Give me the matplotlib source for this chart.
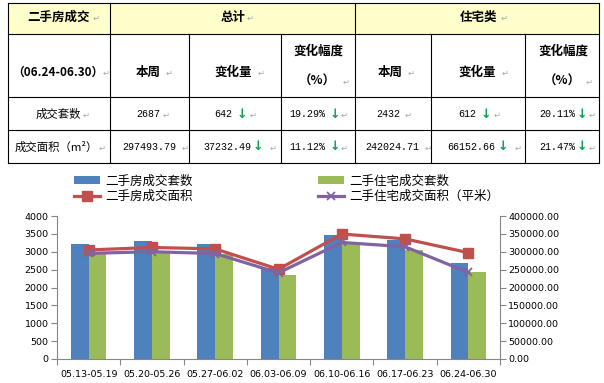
import matplotlib
matplotlib.use('Agg')
import matplotlib.pyplot as plt
import matplotlib.ticker as mticker
from matplotlib.patches import Rectangle, Patch
from matplotlib.lines import Line2D
from matplotlib.font_manager import FontProperties
import numpy as np

# ---------------- data ----------------
weeks = ['05.13-05.19', '05.20-05.26', '05.27-06.02', '06.03-06.09',
         '06.10-06.16', '06.17-06.23', '06.24-06.30']
all_units = [3210, 3300, 3210, 2550, 3470, 3340, 2687]
res_units = [2960, 3000, 2950, 2350, 3220, 3049, 2432]
all_area = [305000, 312000, 308000, 251000, 349600, 336000, 297493.79]
res_area = [295600, 300000, 295000, 241000, 326000, 314000, 242024.71]
series_names = ['二手房成交套数', '二手房成交面积', '二手住宅成交套数', '二手住宅成交面积（平米）']

table_title = '二手房成交'
table_period = '（06.24-06.30）'
group_names = ['总计', '住宅类']
col_heads = ['本周', '变化量', '变化幅度', '（%）']
row_labels = ['成交套数', '成交面积（m²）']
total_week = ['2687', '297493.79']
total_change = ['642', '37232.49']
total_pct = ['19.29%', '11.12%']
res_week = ['2432', '242024.71']
res_change = ['612', '66152.66']
res_pct = ['20.11%', '21.47%']

# ---------------- figure ----------------
W, H = 604, 383
fig = plt.figure(figsize=(W / 100, H / 100), dpi=100)

CJK = 'Noto Sans CJK SC'
MONO = 'Liberation Mono'
GRAY_MARK = '#A8A8A8'
ARROW_C = '#0E9F55'

tax = fig.add_axes([0, 0, 1, 1])
tax.set_xlim(0, W)
tax.set_ylim(H, 0)
tax.axis('off')

col_x = [8, 110, 189, 281, 355, 431, 525, 599]
row_y = [3, 34, 97, 130, 163]
tax.add_patch(Rectangle((col_x[0], row_y[0]), col_x[-1] - col_x[0], row_y[1] - row_y[0],
                        facecolor='#FFFFCC', edgecolor='none', zorder=0))
lw = 0.8
for y in row_y:
    tax.plot([col_x[0], col_x[-1]], [y, y], color='black', lw=lw, solid_capstyle='projecting')
for x in [col_x[0], col_x[1], col_x[4], col_x[-1]]:
    tax.plot([x, x], [row_y[0], row_y[-1]], color='black', lw=lw)
for x in [col_x[2], col_x[3], col_x[5], col_x[6]]:
    tax.plot([x, x], [row_y[1], row_y[-1]], color='black', lw=lw)


def txt(x, y, s, family=CJK, size=8, weight='normal', color='black', ha='center'):
    tax.text(x, y, s, ha=ha, va='center', fontsize=size, family=family,
             fontweight=weight, color=color)


def mark(x, y):
    txt(x, y, '↵', family='DejaVu Sans', size=6, color=GRAY_MARK)


def arrow(x, y):
    txt(x, y, '↓', family='DejaVu Sans', size=9, weight='bold', color=ARROW_C)


HB = 9  # bold header size
# header row 1
txt(58.5, 17, table_title, size=HB, weight='bold'); mark(96, 18)
txt(233, 17, group_names[0], size=HB, weight='bold'); mark(250, 18)
txt(478, 17, group_names[1], size=HB, weight='bold'); mark(504, 18)
# header row 2
txt(58, 72.5, table_period, size=8.5, weight='bold'); mark(106.5, 73)
for cx, mx in [(148, 169), (390, 411)]:
    txt(cx, 72.5, col_heads[0], size=HB, weight='bold'); mark(mx, 73)
for cx, mx in [(233.5, 261), (477.5, 505)]:
    txt(cx, 72.5, col_heads[1], size=HB, weight='bold'); mark(mx, 73)
for cx, mx in [(318, 346), (563, 589)]:
    txt(cx, 51.5, col_heads[2], size=HB, weight='bold')
    txt(cx - 1, 81, col_heads[3], size=HB, weight='bold'); mark(mx, 82)

# data rows
ys = [114, 147]
# row label column
txt(58, ys[0], row_labels[0], size=8.2); mark(86, ys[0] + 1)
txt(56.5, ys[1], row_labels[1], size=8.2); mark(102, ys[1] + 1)
# total - this week
txt(148.3, ys[0], total_week[0], family=MONO, size=7.2); mark(166, ys[0] + 1)
txt(149.5, ys[1], total_week[1], family=MONO, size=7.2); mark(185, ys[1] + 1)
# total - change
txt(223, ys[0], total_change[0], family=MONO, size=7.2); arrow(242, ys[0]); mark(253, ys[0] + 1)
txt(227, ys[1], total_change[1], family=MONO, size=7.2); arrow(257.7, ys[1]); mark(273, ys[1] + 1)
# total - pct
txt(307.5, ys[0], total_pct[0], family=MONO, size=7.2); arrow(334.5, ys[0]); mark(344, ys[0] + 1)
txt(307.5, ys[1], total_pct[1], family=MONO, size=7.2); arrow(334.5, ys[1]); mark(344, ys[1] + 1)
# residential - this week
txt(388, ys[0], res_week[0], family=MONO, size=7.2); mark(408, ys[0] + 1)
txt(392, ys[1], res_week[1], family=MONO, size=7.2); mark(427.7, ys[1] + 1)
# residential - change
txt(467, ys[0], res_change[0], family=MONO, size=7.2); arrow(486, ys[0]); mark(497, ys[0] + 1)
txt(471.7, ys[1], res_change[1], family=MONO, size=7.2); arrow(502.7, ys[1]); mark(518, ys[1] + 1)
# residential - pct
txt(557, ys[0], res_pct[0], family=MONO, size=7.2); arrow(582, ys[0]); mark(592, ys[0] + 1)
txt(557, ys[1], res_pct[1], family=MONO, size=7.2); arrow(582, ys[1]); mark(592, ys[1] + 1)

# ---------------- chart ----------------
BLUE = '#4F81BD'
GREEN = '#9BBB59'
RED = '#C0504D'
PURPLE = '#8064A2'
AXC = '#868686'

ax = fig.add_axes([57 / W, (H - 359) / H, 443 / W, 143 / H])
ax.patch.set_alpha(0)
x = np.arange(len(weeks))
bw = 0.28
ax.bar(x - bw / 2, all_units, width=bw, color=BLUE, zorder=2)
ax.bar(x + bw / 2, res_units, width=bw, color=GREEN, zorder=2)
ax.set_xlim(-0.5, len(weeks) - 0.5)
ax.set_ylim(0, 4000)
ax.set_yticks(np.arange(0, 4001, 500))
ax.set_xticks(np.arange(-0.5, len(weeks), 1))
ax.set_xticklabels([])
ax.set_xticks(x, minor=True)
ax.set_xticklabels(weeks, minor=True)
ax.tick_params(axis='x', which='major', length=4, color=AXC, direction='out')
ax.tick_params(axis='x', which='minor', length=0, pad=8, labelsize=6.8)
ax.tick_params(axis='y', length=4, color=AXC, direction='out', pad=2, labelsize=6.8)
for s in ['top', 'right']:
    ax.spines[s].set_visible(False)
for s in ['left', 'bottom']:
    ax.spines[s].set_color(AXC)
    ax.spines[s].set_linewidth(0.8)

ax2 = ax.twinx()
ax2.plot(x, all_area, color=RED, lw=2.3, marker='s', markersize=7, zorder=3)
ax2.plot(x, res_area, color=PURPLE, lw=2.3, marker='x', markersize=6,
         markeredgewidth=1.3, zorder=4)
ax2.set_ylim(0, 400000)
ax2.set_yticks(np.arange(0, 400001, 50000))
ax2.yaxis.set_major_formatter(mticker.FuncFormatter(lambda v, p: f'{v:.2f}'))
ax2.tick_params(axis='y', length=4, color=AXC, direction='out', pad=2, labelsize=6.8)
for s in ['top', 'left', 'bottom']:
    ax2.spines[s].set_visible(False)
ax2.spines['right'].set_color(AXC)
ax2.spines['right'].set_linewidth(0.8)

handles = [Patch(facecolor=BLUE, edgecolor='none'),
           Line2D([], [], color=RED, lw=2.3, marker='s', markersize=7),
           Patch(facecolor=GREEN, edgecolor='none'),
           Line2D([], [], color=PURPLE, lw=2.3, marker='x', markersize=6, markeredgewidth=1.3)]
labels = [series_names[0], series_names[1], series_names[2], series_names[3]]
fig.legend(handles, labels, ncol=2, loc='upper left',
           bbox_to_anchor=(74 / W, 1 - 174.5 / H), frameon=False,
           prop=FontProperties(family=CJK, size=9), handlelength=2.1,
           handleheight=0.6, handletextpad=0.4, columnspacing=10,
           labelspacing=0.22, borderpad=0, borderaxespad=0)

fig.savefig('out.png', dpi=100)
